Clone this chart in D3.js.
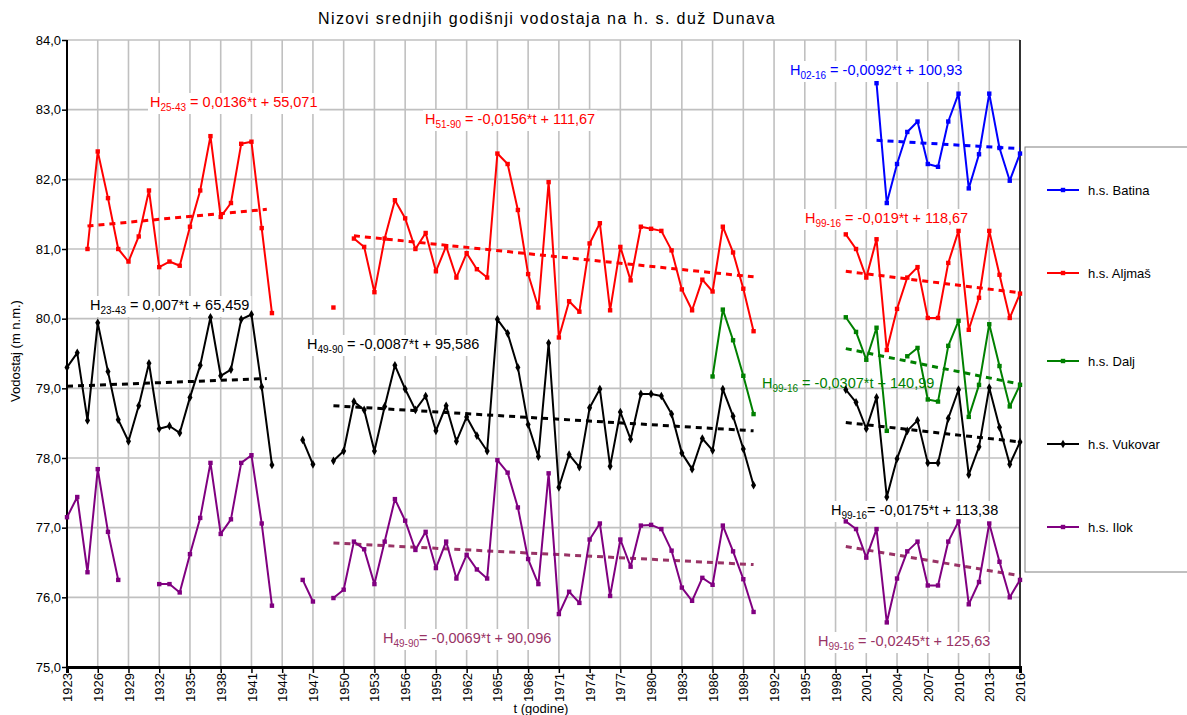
<!DOCTYPE html>
<html><head><meta charset="utf-8">
<script src="https://cdn.jsdelivr.net/npm/d3@7"></script>
<style>body{margin:0;background:#fff;} text{font-family:"Liberation Sans",Arial,sans-serif;}</style>
</head><body>
<svg id="chart" width="1187" height="715"></svg>
<script>
// ---------- DATA ----------
const firstYear = 1923, lastYear = 2016;
const tickYears = [1923,1926,1929,1932,1935,1938,1941,1944,1947,1950,1953,1956,1959,1962,1965,1968,1971,1974,1977,1980,1983,1986,1989,1992,1995,1998,2001,2004,2007,2010,2013,2016];
const yTicks = [75,76,77,78,79,80,81,82,83,84];
const N = null;
// values indexed 1923..2016
const batina = [
 N,N,N,N,N,N,N,N,N,N, N,N,N,N,N,N,N,N,N,N, N,N,N,N,N,N,N,N,N,N, N,N,N,N,N,N,N,N,N,N, // 1923-1962
 N,N,N,N,N,N,N,N,N,N, N,N,N,N,N,N,N,N,N,N, N,N,N,N,N,N,N,N,N,N, N,N,N,N,N,N,N,N,N,   // 1963-2001
 83.38,81.66,82.22,82.68,82.83,82.22,82.18,82.83,83.23,81.87,82.36,83.23,82.45,81.98,82.37]; // 2002-2016
const aljmas = [
 N,N,81.00,82.40,81.73,81.00,80.82,81.18,81.84,80.74, // 1923-1932
 80.82,80.76,81.32,81.84,82.62,81.46,81.66,82.51,82.54,81.30, // 1933-1942
 80.08,N,N,N,N,N,80.16,N,81.15,81.03, // 1943-1952
 80.38,81.15,81.70,81.44,81.00,81.23,80.68,81.04,80.59,80.94, // 1953-1962
 80.71,80.59,82.37,82.22,81.56,80.64,80.16,81.96,79.73,80.25, // 1963-1972
 80.10,81.08,81.37,80.12,81.03,80.55,81.32,81.29,81.26,80.98, // 1973-1982
 80.42,80.12,80.56,80.39,81.32,80.95,80.43,79.82,N,N, // 1983-1992
 N,N,N,N,N,N,81.21,81.00,80.59,81.14, // 1993-2002
 79.55,80.14,80.59,80.74,80.01,80.01,80.80,81.26,79.84,80.30, // 2003-2012
 81.26,80.63,80.01,80.36]; // 2013-2016
const dalj = [
 N,N,N,N,N,N,N,N,N,N, N,N,N,N,N,N,N,N,N,N, // 1923-1942
 N,N,N,N,N,N,N,N,N,N, N,N,N,N,N,N,N,N,N,N, // 1943-1962
 N,N,N,N,N,N,N,N,N,N, N,N,N,N,N,N,N,N,N,N, // 1963-1982
 N,N,N,79.17,80.13,79.69,79.18,78.63,N,N, // 1983-1992
 N,N,N,N,N,N,80.02,79.81,79.41,79.87, // 1993-2002
 78.39,N,79.46,79.58,78.84,78.81,79.61,79.97,78.59,79.05, // 2003-2012
 79.92,79.32,78.74,79.05]; // 2013-2016
const vukovar = [
 79.30,79.51,78.54,79.94,79.24,78.55,78.24,78.75,79.36,78.42, // 1923-1932
 78.46,78.36,78.87,79.33,80.02,79.18,79.27,79.99,80.06,79.02, // 1933-1942
 77.90,N,N,78.26,77.91,N,77.96,78.10,78.81,78.69, // 1943-1952
 78.10,78.74,79.33,78.99,78.69,78.89,78.39,78.75,78.24,78.59, // 1953-1962
 78.32,78.10,79.99,79.79,79.30,78.48,78.02,79.65,77.58,78.05, // 1963-1972
 77.87,78.72,78.99,77.88,78.66,78.27,78.92,78.92,78.89,78.63, // 1973-1982
 78.07,77.84,78.28,78.11,78.99,78.60,78.13,77.61,N,N, // 1983-1992
 N,N,N,N,N,N,78.98,78.80,78.42,78.87, // 1993-2002
 77.44,77.99,78.39,78.54,77.93,77.93,78.57,78.98,77.76,78.16, // 2003-2012
 79.01,78.44,77.91,78.23]; // 2013-2016
const ilok = [
 77.15,77.44,76.36,77.84,76.94,76.25,N,N,N,76.19, // 1923-1932
 76.19,76.07,76.62,77.14,77.93,76.91,77.12,77.93,78.04,77.06, // 1933-1942
 75.88,N,N,76.25,75.94,N,75.99,76.11,76.80,76.69, // 1943-1952
 76.19,76.80,77.41,77.10,76.68,76.94,76.42,76.80,76.27,76.61, // 1953-1962
 76.40,76.27,77.97,77.79,77.29,76.55,76.19,77.78,75.76,76.08, // 1963-1972
 75.92,76.83,77.06,76.02,76.83,76.44,77.03,77.04,76.98,76.67, // 1973-1982
 76.14,75.95,76.28,76.18,77.03,76.66,76.26,75.79,N,N, // 1983-1992
 N,N,N,N,N,N,77.09,76.98,76.57,76.98, // 1993-2002
 75.64,76.27,76.66,76.80,76.17,76.17,76.80,77.09,75.90,76.22, // 2003-2012
 77.06,76.51,76.00,76.25]; // 2013-2016

const seriesNames = ["h.s. Batina","h.s. Aljmaš","h.s. Dalj","h.s. Vukovar","h.s. Ilok"];
const seriesValues = [batina, aljmas, dalj, vukovar, ilok];

// trend lines: series index, from year, to year, start value, end value
const trendSeries = [1,1,1,0,2,3,3,3,4,4];
const trendFrom   = [1925,1951,1999,2002,1999,1923,1949,1999,1949,1999];
const trendTo     = [1942.5,1990,2016,2016,2016,1942.5,1990,2016,1990,2016];
const trendStart  = [81.33,81.19,80.68,82.56,79.57,79.03,78.75,78.51,76.78,76.73];
const trendEnd    = [81.57,80.60,80.37,82.44,79.06,79.14,78.39,78.23,76.47,76.31];

// equation labels
const eqSub  = ["25-43","51-90","02-16","99-16","23-43","49-90","99-16","99-16","49-90","99-16"];
const eqText = [" = 0,0136*t + 55,071"," = -0,0156*t + 111,67"," = -0,0092*t + 100,93"," = -0,019*t + 118,67",
                " = 0,007*t + 65,459"," = -0,0087*t + 95,586"," = -0,0307*t + 140,99","= -0,0175*t + 113,38",
                "= -0,0069*t + 90,096"," = -0,0245*t + 125,63"];

// ---------- STYLE / LAYOUT ----------
const colors = ["#0000FF","#FF0000","#008000","#000000","#800080"];
const trendColors = ["#0000FF","#FF0000","#008000","#000000","#993366"];
const eqColor = ["#FF0000","#FF0000","#0000FF","#FF0000","#000000","#000000","#008000","#000000","#993366","#993366"];
const eqPos = [[150,107],[425,124],[790,75],[805,223],[90,310],[307,349],[762,388],[831,515],[383,643],[818,646]];
const eqBg  = [true,true,true,true,true,true,false,true,true,true];

const L = 67, R = 1020, T = 40, B = 667;
const svg = d3.select("#chart");
const x = d3.scaleLinear().domain([firstYear,lastYear]).range([L,R]);
const y = d3.scaleLinear().domain([75,84]).range([B,T]);
const years = d3.range(firstYear, lastYear+1);

// gridlines
const g = svg.append("g");
g.selectAll(".vg").data(tickYears).join("line")
  .attr("x1",d=>x(d)).attr("x2",d=>x(d)).attr("y1",T).attr("y2",B)
  .attr("stroke","#c0c0c0").attr("stroke-width",1.6);
g.selectAll(".hg").data(yTicks).join("line")
  .attr("x1",L).attr("x2",R).attr("y1",d=>y(d)).attr("y2",d=>y(d))
  .attr("stroke","#c0c0c0").attr("stroke-width",1.6);

// equation labels
const eqG = svg.append("g");
eqSub.forEach((s,i)=>{
  const t = eqG.append("text").attr("x",eqPos[i][0]).attr("y",eqPos[i][1])
     .attr("fill",eqColor[i]).attr("font-size","14.5px");
  t.append("tspan").text("H");
  t.append("tspan").text(s).attr("font-size","10px").attr("dy",4);
  t.append("tspan").text(eqText[i]).attr("dy",-4);
  if (eqBg[i]) {
    const bb = t.node().getBBox();
    eqG.insert("rect", () => t.node()).attr("x",bb.x-2).attr("y",bb.y-1)
      .attr("width",bb.width+4).attr("height",bb.height+2).attr("fill","#fff");
  }
});

// axes
svg.append("line").attr("x1",L).attr("x2",L).attr("y1",T).attr("y2",B).attr("stroke","#000").attr("stroke-width",2);
svg.append("line").attr("x1",R).attr("x2",R).attr("y1",T).attr("y2",B).attr("stroke","#000").attr("stroke-width",1.5);
const yAxis = svg.append("g").attr("transform",`translate(${L},0)`)
  .call(d3.axisLeft(y).tickValues(yTicks).tickSize(5).tickFormat(d=>d3.format(".1f")(d).replace(".",",")));
yAxis.select(".domain").remove();
yAxis.selectAll("text").attr("font-size","13px").attr("fill","#000").attr("x",-6).style("font-family","Liberation Sans, Arial, sans-serif");
yAxis.selectAll("line").attr("stroke","#000").attr("stroke-width",1.5);

const xAxis = svg.append("g").attr("transform",`translate(0,${B})`)
  .call(d3.axisBottom(x).tickValues(tickYears).tickSize(6).tickFormat(d3.format("d")));
xAxis.select(".domain").attr("stroke","#000").attr("stroke-width",3);
xAxis.selectAll("line").attr("stroke","#000").attr("stroke-width",1.5);
xAxis.selectAll("text").attr("font-size","13px").attr("fill","#000")
  .attr("transform","rotate(-90)").attr("text-anchor","end").attr("x",-6).attr("y",0).attr("dy","0.35em")
  .style("font-family","Liberation Sans, Arial, sans-serif");

// trend lines
trendSeries.forEach((s,i)=>{
  svg.append("line").attr("x1",x(trendFrom[i])).attr("x2",x(trendTo[i]))
    .attr("y1",y(trendStart[i])).attr("y2",y(trendEnd[i]))
    .attr("stroke",trendColors[s]).attr("stroke-width",3).attr("stroke-dasharray","6,5");
});

// series
const line = d3.line().defined(d=>d.v!=null).x(d=>x(d.yr)).y(d=>y(d.v));
seriesValues.forEach((vals,si)=>{
  const pts = vals.map((v,i)=>({yr:years[i], v}));
  svg.append("path").datum(pts).attr("d",line).attr("fill","none")
    .attr("stroke",colors[si]).attr("stroke-width",2).attr("stroke-linejoin","round");
  const dp = pts.filter(d=>d.v!=null);
  if (si===3) {
    svg.append("g").selectAll("path").data(dp).join("path")
      .attr("d",d3.symbol(d3.symbolDiamond,22))
      .attr("transform",d=>`translate(${x(d.yr)},${y(d.v)})`).attr("fill",colors[si]);
  } else {
    svg.append("g").selectAll("rect").data(dp).join("rect")
      .attr("x",d=>x(d.yr)-2.2).attr("y",d=>y(d.v)-2.2).attr("width",4.4).attr("height",4.4)
      .attr("fill",colors[si]);
  }
});

// title & axis titles
svg.append("text").attr("x",547).attr("y",24).attr("text-anchor","middle")
  .attr("font-size","16px").attr("letter-spacing","1.4px").text("Nizovi srednjih godišnji vodostaja na h. s. duž Dunava");
svg.append("text").attr("transform","translate(20,351) rotate(-90)").attr("text-anchor","middle")
  .attr("font-size","13px").text("Vodostaj (m n.m.)");
svg.append("text").attr("x",541).attr("y",713).attr("text-anchor","middle")
  .attr("font-size","13px").text("t (godine)");

// legend
const lg = svg.append("g");
lg.append("rect").attr("x",1025).attr("y",147).attr("width",170).attr("height",425)
  .attr("fill","#fff").attr("stroke","#808080").attr("stroke-width",1);
const legY = [190,273,361,444,527];
seriesNames.forEach((n,i)=>{
  lg.append("line").attr("x1",1047).attr("x2",1079).attr("y1",legY[i]).attr("y2",legY[i])
    .attr("stroke",colors[i]).attr("stroke-width",2);
  if (i===3) lg.append("path").attr("d",d3.symbol(d3.symbolDiamond,22)).attr("transform",`translate(1063,${legY[i]})`).attr("fill",colors[i]);
  else lg.append("rect").attr("x",1060.8).attr("y",legY[i]-2.2).attr("width",4.4).attr("height",4.4).attr("fill",colors[i]);
  lg.append("text").attr("x",1088).attr("y",legY[i]+5).attr("font-size","13px").text(n);
});
</script>
</body></html>
